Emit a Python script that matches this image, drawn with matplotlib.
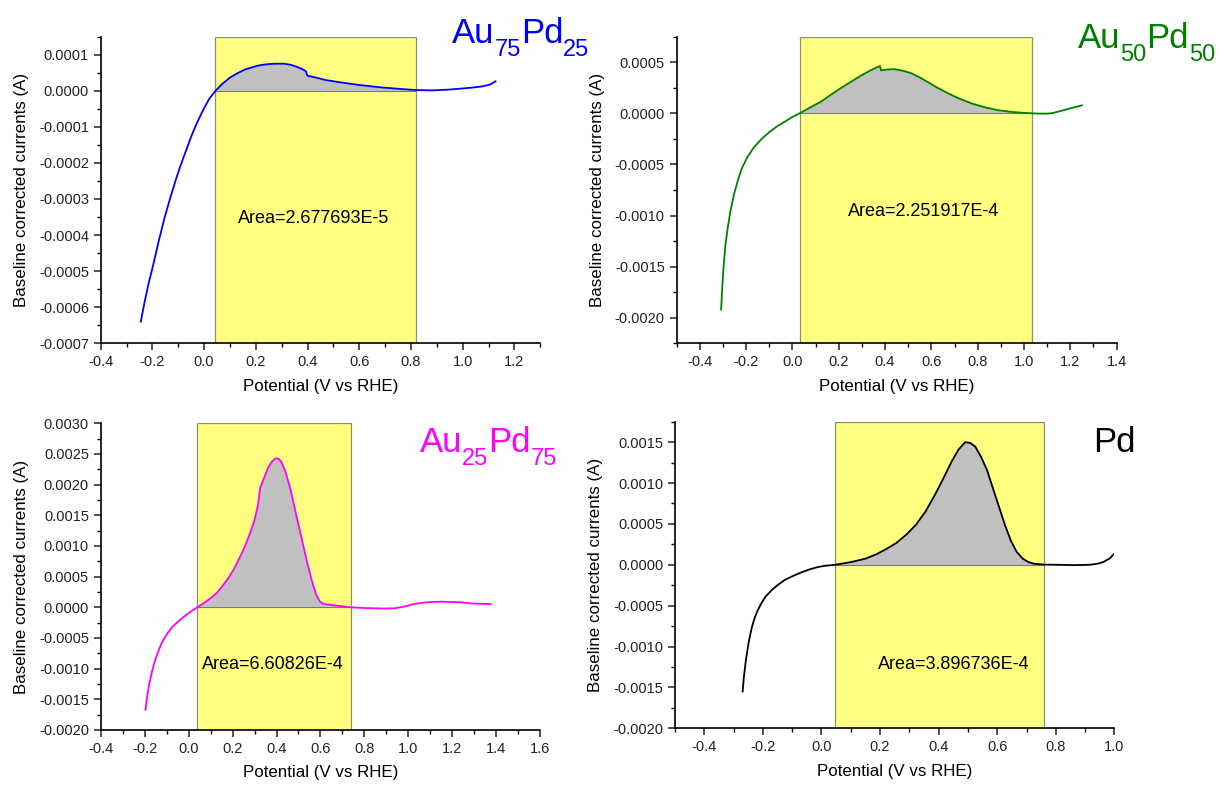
import numpy as np
import matplotlib.pyplot as plt
from matplotlib.ticker import MultipleLocator, FuncFormatter

plt.rcParams['font.family'] = ['Liberation Sans', 'DejaVu Sans']

# Au75Pd25
x_au75 = [-0.245, -0.23, -0.215, -0.197, -0.175, -0.153, -0.13, -0.11, -0.094, -0.07, -0.049,
          -0.027, -0.005, 0.02, 0.044, 0.07, 0.099, 0.13, 0.158, 0.19, 0.217, 0.25, 0.276,
          0.31, 0.335, 0.36, 0.38, 0.394, 0.399, 0.43, 0.468, 0.53, 0.6, 0.69, 0.76, 0.82,
          0.88, 0.94, 0.986, 1.04, 1.075, 1.105, 1.127]
i_au75 = [-0.00064, -0.000585, -0.000535, -0.000483, -0.000415, -0.000352, -0.000295,
          -0.000248, -0.000213, -0.000166, -0.000125, -0.000088, -0.000055, -0.000022, 0.0,
          0.000019, 0.000036, 0.000049, 0.000059, 0.000066, 0.000071, 0.000074, 0.000075,
          0.000075, 0.000072, 0.000066, 0.00006, 0.000054, 0.000042, 0.000037, 0.00003,
          0.000023, 0.000016, 0.000009, 0.000005, 0.000002, 0.000001, 0.000003, 0.0000055,
          0.000009, 0.000012, 0.000017, 0.000026]

# Au50Pd50
x_au50 = [-0.308, -0.303, -0.298, -0.29, -0.28, -0.268, -0.252, -0.235, -0.218, -0.195,
          -0.167, -0.135, -0.099, -0.065, -0.03, 0.0, 0.031, 0.075, 0.123, 0.165, 0.208,
          0.25, 0.293, 0.335, 0.37, 0.378, 0.383, 0.41, 0.438, 0.475, 0.515, 0.565, 0.617,
          0.67, 0.719, 0.78, 0.838, 0.89, 0.94, 0.99, 1.034, 1.07, 1.102, 1.125, 1.145,
          1.2, 1.25]
i_au50 = [-0.00192, -0.0017, -0.00152, -0.0013, -0.00113, -0.00096, -0.00079, -0.00065,
          -0.000535, -0.00043, -0.000335, -0.000255, -0.000182, -0.000125, -0.000078,
          -0.000035, 0.0, 0.000055, 0.000114, 0.00018, 0.000245, 0.000305, 0.000365,
          0.000418, 0.000455, 0.000463, 0.00042, 0.000428, 0.000432, 0.000418, 0.000391,
          0.000332, 0.000262, 0.000198, 0.000145, 0.000092, 0.000055, 0.00003, 0.000015,
          0.000006, 0.0, -0.000003, -0.000003, 0.000003, 0.000015, 0.000048, 0.000078]

# Au25Pd75
x_au25 = [-0.196, -0.19, -0.179, -0.166, -0.153, -0.135, -0.118, -0.095, -0.074, -0.05,
          -0.022, 0.01, 0.04, 0.07, 0.1, 0.127, 0.152, 0.18, 0.204, 0.23, 0.256, 0.28, 0.3,
          0.315, 0.326, 0.335, 0.348, 0.361, 0.378, 0.396, 0.41, 0.422, 0.44, 0.465, 0.49,
          0.517, 0.54, 0.561, 0.58, 0.596, 0.61, 0.622, 0.68, 0.738, 0.8, 0.883, 0.935,
          0.98, 1.022, 1.08, 1.144, 1.231, 1.3, 1.375]
i_au25 = [-0.00167, -0.00148, -0.00125, -0.00104, -0.00087, -0.00069, -0.00055, -0.00042,
          -0.00032, -0.00024, -0.000155, -0.00007, 0.0, 0.00007, 0.000147, 0.00023,
          0.000337, 0.00047, 0.000609, 0.00079, 0.000989, 0.00121, 0.00142, 0.00165,
          0.00195, 0.00203, 0.00215, 0.00227, 0.00237, 0.00243, 0.00242, 0.00237, 0.00222,
          0.0019, 0.0015, 0.00108, 0.00072, 0.00043, 0.00021, 0.0001, 0.00006, 0.00005,
          0.000025, 0.0, -0.000012, -0.00002, -0.000017, 0.00001, 0.000052, 0.00008,
          0.000092, 0.000082, 0.00006, 0.000054]

# Pd
x_pd = [-0.269, -0.265, -0.258, -0.248, -0.238, -0.228, -0.218, -0.205, -0.191, -0.17,
        -0.15, -0.125, -0.096, -0.07, -0.042, -0.015, 0.012, 0.047, 0.075, 0.106, 0.15,
        0.187, 0.22, 0.255, 0.29, 0.322, 0.355, 0.39, 0.418, 0.444, 0.468, 0.491, 0.508,
        0.525, 0.545, 0.565, 0.585, 0.606, 0.626, 0.646, 0.666, 0.687, 0.707, 0.727, 0.76,
        0.81, 0.862, 0.916, 0.945, 0.963, 0.985, 1.0]
i_pd = [-0.00155, -0.00138, -0.00117, -0.00094, -0.00077, -0.00065, -0.00056, -0.00047,
        -0.00039, -0.00031, -0.00025, -0.000185, -0.000135, -0.000095, -0.000058, -0.00003,
        -0.000012, 0.0, 0.000017, 0.000037, 0.000075, 0.000128, 0.00019, 0.000265, 0.00037,
        0.000487, 0.00065, 0.000873, 0.00107, 0.00126, 0.00141, 0.0015, 0.00149, 0.001445,
        0.00132, 0.00116, 0.00094, 0.00071, 0.00049, 0.0003, 0.00016, 0.000075, 0.000032,
        0.000012, 0.000002, 0.0, -0.000004, 0.0, 0.000015, 0.000035, 0.00008, 0.00014]

# sample names as (text, is_subscript) pieces
names = [[('Au', 0), ('75', 1), ('Pd', 0), ('25', 1)],
         [('Au', 0), ('50', 1), ('Pd', 0), ('50', 1)],
         [('Au', 0), ('25', 1), ('Pd', 0), ('75', 1)],
         [('Pd', 0)]]
areas = ['Area=2.677693E-5', 'Area=2.251917E-4', 'Area=6.60826E-4', 'Area=3.896736E-4']
windows = [(0.044, 0.82), (0.031, 1.034), (0.04, 0.738), (0.047, 0.76)]

fig = plt.figure(figsize=(12.19, 7.85), dpi=100)
renderer = fig.canvas.get_renderer()

panels = [
    dict(x=x_au75, y=i_au75, c='#0000FF', pos=[0.0826, 0.5627, 0.3606, 0.3906],
         xlim=(-0.4, 1.3), ylim=(-0.0007, 0.00015), ymaj=0.0001, txt=(0.424, -0.000354),
         title=(0.3708, 0.9452)),
    dict(x=x_au50, y=i_au50, c='#008000', pos=[0.5551, 0.5627, 0.3609, 0.3906],
         xlim=(-0.5, 1.4), ylim=(-0.00225, 0.00075), ymaj=0.0005, txt=(0.566, -0.000962),
         title=(0.8843, 0.9389)),
    dict(x=x_au25, y=i_au25, c='#FF00FF', pos=[0.0826, 0.0701, 0.3606, 0.3907],
         xlim=(-0.4, 1.6), ylim=(-0.002, 0.003), ymaj=0.0005, txt=(0.382, -0.00094),
         title=(0.3441, 0.4242)),
    dict(x=x_pd, y=i_pd, c='black', pos=[0.5537, 0.0722, 0.3605, 0.3906],
         xlim=(-0.5, 1.0), ylim=(-0.002, 0.00175), ymaj=0.0005, txt=(0.453, -0.00122),
         title=(0.8964, 0.4246)),
]

for k, p in enumerate(panels):
    ax = fig.add_axes(p['pos'])
    x = np.array(p['x'])
    y = np.array(p['y'])
    x0, x1 = windows[k]
    ax.axvspan(x0, x1, facecolor='#FFFF80', edgecolor='#8f8f70', lw=0.9, zorder=0)
    m = (x >= x0 - 1e-9) & (x <= x1 + 1e-9)
    ax.fill_between(x[m], y[m], 0, color='#C0C0C0', lw=0, zorder=1)
    ax.plot([x0, x1], [0, 0], color='#7a7a7a', lw=0.8, zorder=2)
    ax.plot(x, y, color=p['c'], lw=1.3, zorder=3)
    ax.text(p['txt'][0], p['txt'][1], areas[k], ha='center', va='center', fontsize=13)

    ax.set_xlim(p['xlim'])
    ax.set_ylim(p['ylim'])
    ax.spines['top'].set_visible(False)
    ax.spines['right'].set_visible(False)
    ax.spines['left'].set_linewidth(1.2)
    ax.spines['bottom'].set_linewidth(1.2)
    ax.xaxis.set_major_locator(MultipleLocator(0.2))
    ax.xaxis.set_minor_locator(MultipleLocator(0.1))
    ax.yaxis.set_major_locator(MultipleLocator(p['ymaj']))
    ax.yaxis.set_minor_locator(MultipleLocator(p['ymaj'] / 2))
    ax.xaxis.set_major_formatter(FuncFormatter(lambda v, pos: '0.0' if abs(v) < 1e-9 else f'{v:.1f}'))
    ax.yaxis.set_major_formatter(FuncFormatter(lambda v, pos: '0.0000' if abs(v) < 1e-12 else f'{v:.4f}'))
    ax.tick_params(which='major', direction='out', length=5, width=1.1, labelsize=10.5, colors='#222222')
    ax.tick_params(which='minor', direction='out', length=3, width=1.0)
    ax.set_xlabel('Potential (V vs RHE)', fontsize=12.2, labelpad=7)
    ax.set_ylabel('Baseline corrected currents (A)', fontsize=12.2, labelpad=7)

    # sample name with lowered subscripts
    tx, ty = p['title']
    for s, sub in names[k]:
        t = fig.text(tx, ty - (13 / 785 if sub else 0), s, color=p['c'],
                     fontsize=17 if sub else 25, ha='left', va='baseline')
        tx += t.get_window_extent(renderer).width / fig.bbox.width

fig.savefig('out.png', dpi=100)
